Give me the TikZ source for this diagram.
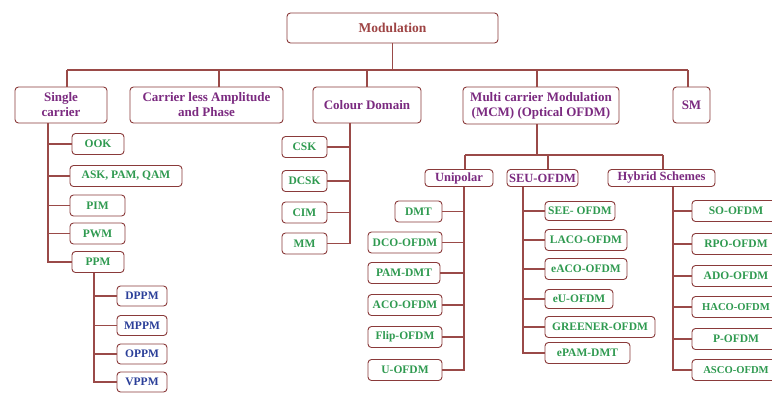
\documentclass[tikz,border=0pt]{standalone}
\usepackage{fontspec}
\setmainfont{Liberation Serif}
\definecolor{bc}{HTML}{8A3A3A}
\definecolor{lc}{HTML}{9A4A48}
\definecolor{modc}{HTML}{9E4444}
\definecolor{pc}{HTML}{7B2A80}
\definecolor{gc}{HTML}{2F9A50}
\definecolor{bl}{HTML}{2B3F99}
\tikzset{
  box/.style={draw=bc, line width=0.9pt, rounded corners=3.5pt, fill=white, inner sep=1pt, align=center},
  topbox/.style={box, text=modc, font=\bfseries\fontsize{13.5}{15}\selectfont},
  lone/.style={box, text=pc, font=\bfseries\fontsize{13}{15}\selectfont},
  ltwo/.style={box, text=pc, font=\bfseries\fontsize{12.5}{14}\selectfont, minimum height=17},
  gbox/.style={box, text=gc, font=\bfseries\fontsize{11.5}{13}\selectfont, minimum height=21},
  hbox/.style={gbox, minimum width=88},
  sbox/.style={hbox, font=\bfseries\fontsize{10.6}{12}\selectfont},
  bbox/.style={box, text=bl, font=\bfseries\fontsize{11.5}{13}\selectfont, minimum height=20, minimum width=50},
  conn/.style={draw=lc, line width=1.2pt}
}
\begin{document}
\begin{tikzpicture}[x=1pt,y=-1pt]
\useasboundingbox (0,0) rectangle (772,392);
\clip (0,0) rectangle (772,392);
\fill[white] (0,0) rectangle (772,392);
% top
\node[topbox, minimum width=211, minimum height=30] (mod) at (392.5,28) {Modulation};
\node[lone, minimum width=92, minimum height=36] (sc) at (61,105) {Single\\carrier};
\node[lone, minimum width=153, minimum height=36] (cl) at (206.5,105) {Carrier less Amplitude\\and Phase};
\node[lone, minimum width=108, minimum height=36] (cd) at (367,105) {Colour Domain};
\node[lone, minimum width=156, minimum height=37] (mcm) at (541,105.5) {Multi carrier Modulation\\(MCM) (Optical OFDM)};
\node[lone, minimum width=37, minimum height=36] (sm) at (691.5,105) {SM};
\coordinate (b1) at (67,70);
\coordinate (b2) at (219,70);
\coordinate (b3) at (367,70);
\coordinate (b4) at (537,70);
\coordinate (b5) at (688,70);
\draw[conn] (b1) -- (b5);
\draw[conn] (mod.south) -- (mod.south |- b1);
\draw[conn] (b1) -- (b1 |- sc.north);
\draw[conn] (b2) -- (b2 |- cl.north);
\draw[conn] (b3) -- (b3 |- cd.north);
\draw[conn] (b4) -- (b4 |- mcm.north);
\draw[conn] (b5) -- (b5 |- sm.north);
% single carrier children
\node[gbox, minimum width=52] (ook) at (98,144) {OOK};
\node[gbox, minimum width=112] (ask) at (126,176) {ASK, PAM, QAM};
\node[gbox, minimum width=55] (pim) at (97.5,205.5) {PIM};
\node[gbox, minimum width=55] (pwm) at (97.5,233.5) {PWM};
\node[gbox, minimum width=52] (ppm) at (98,262) {PPM};
\coordinate (v1) at (48,0);
\draw[conn] (v1 |- sc.south) -- (v1 |- ppm.west) -- (ppm.west);
\foreach \n in {ook,ask,pim,pwm} \draw[conn] (\n.west) -- (\n.west -| v1);
% PPM children
\node[bbox] (dppm) at (142,296) {DPPM};
\node[bbox] (mppm) at (142,325.5) {MPPM};
\node[bbox] (oppm) at (142,354) {OPPM};
\node[bbox] (vppm) at (142,382) {VPPM};
\coordinate (v2) at (94,0);
\draw[conn] (v2 |- ppm.south) -- (v2 |- vppm.west) -- (vppm.west);
\foreach \n in {dppm,mppm,oppm} \draw[conn] (\n.west) -- (\n.west -| v2);
% colour domain children
\node[gbox, minimum width=45] (csk) at (304.5,147) {CSK};
\node[gbox, minimum width=45] (dcsk) at (304.5,181) {DCSK};
\node[gbox, minimum width=45] (cim) at (304.5,212.5) {CIM};
\node[gbox, minimum width=45] (mm) at (304.5,243.5) {MM};
\coordinate (v3) at (350,0);
\draw[conn] (v3 |- cd.south) -- (v3 |- mm.east) -- (mm.east);
\foreach \n in {csk,dcsk,cim} \draw[conn] (\n.east) -- (\n.east -| v3);
% MCM children
\node[ltwo, minimum width=68] (uni) at (459,178) {Unipolar};
\node[ltwo, minimum width=71] (seu) at (542.5,178) {SEU-OFDM};
\node[ltwo, minimum width=107] (hyb) at (661.5,178) {Hybrid Schemes};
\coordinate (m1) at (465,155);
\coordinate (m2) at (548,155);
\coordinate (m3) at (663,155);
\draw[conn] (m1) -- (m3);
\draw[conn] (b4 |- mcm.south) -- (b4 |- m1);
\draw[conn] (m1) -- (m1 |- uni.north);
\draw[conn] (m2) -- (m2 |- seu.north);
\draw[conn] (m3) -- (m3 |- hyb.north);
% Unipolar children
\node[gbox, minimum width=47] (dmt) at (418.5,211.5) {DMT};
\node[gbox, minimum width=74] (dco) at (405,242.5) {DCO-OFDM};
\node[gbox, minimum width=72] (pamdmt) at (404,273) {PAM-DMT};
\node[gbox, minimum width=74] (aco) at (405,305) {ACO-OFDM};
\node[gbox, minimum width=74] (flip) at (405,337) {Flip-OFDM};
\node[gbox, minimum width=74] (uofdm) at (405,370) {U-OFDM};
\coordinate (v4) at (464,0);
\draw[conn] (v4 |- uni.south) -- (v4 |- uofdm.east) -- (uofdm.east);
\foreach \n in {dmt,dco,pamdmt,aco,flip} \draw[conn] (\n.east) -- (\n.east -| v4);
% SEU children
\node[gbox, minimum width=70, minimum height=19] (see) at (580,211) {SEE- OFDM};
\node[gbox, minimum width=82] (laco) at (586,240) {LACO-OFDM};
\node[gbox, minimum width=82] (eaco) at (586,269) {eACO-OFDM};
\node[gbox, minimum width=68, minimum height=19] (eu) at (579,299) {eU-OFDM};
\node[gbox, minimum width=110] (green) at (600,327) {GREENER-OFDM};
\node[gbox, minimum width=85] (epam) at (587.5,353) {ePAM-DMT};
\coordinate (v5) at (523,0);
\draw[conn] (v5 |- seu.south) -- (v5 |- epam.west) -- (epam.west);
\foreach \n in {see,laco,eaco,eu,green} \draw[conn] (\n.west) -- (\n.west -| v5);
% Hybrid children
\node[hbox] (so) at (736,211) {SO-OFDM};
\node[hbox] (rpo) at (736,244) {RPO-OFDM};
\node[hbox] (ado) at (736,276) {ADO-OFDM};
\node[sbox] (haco) at (736,307) {HACO-OFDM};
\node[hbox] (pofdm) at (736,339) {P-OFDM};
\node[sbox] (asco) at (736,370) {ASCO-OFDM};
\coordinate (v6) at (673,0);
\draw[conn] (v6 |- hyb.south) -- (v6 |- asco.west) -- (asco.west);
\foreach \n in {so,rpo,ado,haco,pofdm} \draw[conn] (\n.west) -- (\n.west -| v6);
\end{tikzpicture}
\end{document}
